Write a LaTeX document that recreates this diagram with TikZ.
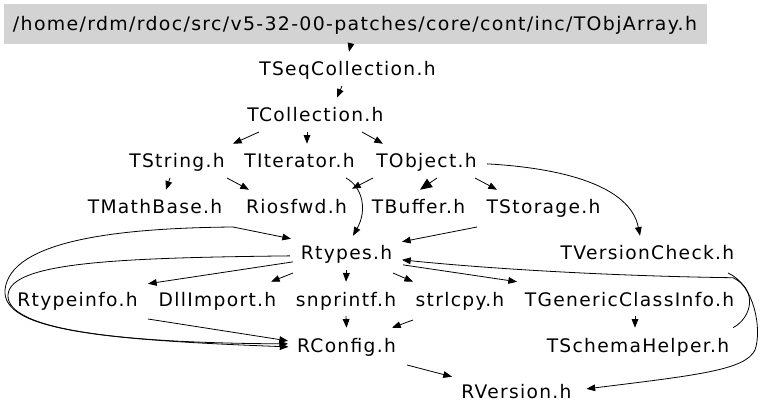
\documentclass[tikz,border=0pt]{standalone}
\usepackage{fontspec}
\setmainfont{DejaVu Sans}[LetterSpace=7]
\usepackage{graphicx}
\usetikzlibrary{arrows.meta,calc}
\definecolor{boxgray}{RGB}{211,211,211}
\begin{document}
\begin{tikzpicture}[x=0.75pt,y=-0.75pt,
  lbl/.style={font=\fontsize{14pt}{16pt}\selectfont, text height=14pt, text depth=3.3pt,
              inner xsep=3pt, inner ysep=4pt, anchor=base},
  rootbox/.style={font=\fontsize{14pt}{16pt}\selectfont, text height=14pt, text depth=3.3pt,
              fill=boxgray, draw=boxgray, inner sep=0pt, minimum width=526.5pt, minimum height=29.25pt},
  arr/.style={-{Triangle[length=6.5pt,width=5pt]}, line width=0.6pt},
  bigarr/.style={-{Triangle[length=9pt,width=7.5pt]}, line width=0.6pt}]
\useasboundingbox[fill=white] (0,0) rectangle (768,417);

% nodes
\node[rootbox] (objarr) at (355,23.5) {\resizebox{513pt}{\height}{/home/rdm/rdoc/src/v5-32-00-patches/core/cont/inc/TObjArray.h}};
\node[lbl] (seq) at (347.5,76) {TSeqCollection.h};
\node[lbl] (coll) at (315.5,122) {TCollection.h};
\node[lbl] (tstring) at (177,168) {TString.h};
\node[lbl] (titer) at (299.5,168) {TIterator.h};
\node[lbl] (tobject) at (426.5,168) {TObject.h};
\node[lbl] (tmath) at (155,214) {TMathBase.h};
\node[lbl] (riosfwd) at (296.5,214) {Riosfwd.h};
\node[lbl] (tbuffer) at (418.5,214) {TBuffer.h};
\node[lbl] (tstorage) at (543.5,214) {TStorage.h};
\node[lbl] (rtypes) at (346.5,260) {Rtypes.h};
\node[lbl] (tversion) at (647.5,260) {TVersionCheck.h};
\node[lbl] (rtypeinfo) at (77.5,306) {Rtypeinfo.h};
\node[lbl] (dllimport) at (217.5,306) {DllImport.h};
\node[lbl] (snprintf) at (346,306) {snprintf.h};
\node[lbl] (strlcpy) at (460,306) {strlcpy.h};
\node[lbl] (tgeneric) at (629.5,306) {TGenericClassInfo.h};
\node[lbl] (rconfig) at (346.5,352) {RConfig.h};
\node[lbl] (tschema) at (638,352) {TSchemaHelper.h};
\node[lbl] (rversion) at (516.5,398) {RVersion.h};

% edges
\draw[arr] ($(objarr.south)+(-4,0)$) -- ($(seq.north)+(1.5,0)$);
\draw[arr] ($(seq.south)+(-5.5,0)$) -- ($(coll.north)+(21.5,0)$);
\draw[arr] ($(coll.south)+(-56.5,0)$) -- ($(tstring.north)+(56,0)$);
\draw[arr] ($(coll.south)+(-8.5,0)$) -- ($(titer.north)+(7.5,0)$);
\draw[arr] ($(coll.south)+(46.5,0)$) -- ($(tobject.north)+(-43.5,0)$);
\draw[arr] ($(tstring.south)+(-7,0)$) -- ($(tmath.north)+(11,0)$);
\draw[arr] ($(tstring.south)+(50,0)$) -- ($(riosfwd.north)+(-47.5,0)$);
\draw[arr] ($(titer.south)+(46.5,0)$) .. controls ($(titer.south)+(63,9)$) and ($(titer.south)+(68,32)$) .. ($(rtypes.north)+(6.5,0)$);
\draw[arr] ($(tobject.south)+(-53.5,0)$) -- ($(riosfwd.north)+(55.5,-1)$);
\draw[bigarr] ($(tobject.south)+(10.5,0)$) -- ($(tbuffer.north)+(1.5,0)$);
\draw[arr] ($(tobject.south)+(48.5,0)$) -- ($(tstorage.north)+(-46.5,0)$);
\draw[arr] ($(tobject.center)+(60.5,3)$) .. controls ($(tobject.center)+(133.5,7)$) and ($(tobject.center)+(203.5,24)$) .. ($(tversion.north)+(-7.5,0)$);
\draw[arr] ($(tmath.south)+(78,3)$) -- ($(rtypes.north)+(-55.5,3)$);
\draw[arr] ($(riosfwd.south)+(-63.5,3)$) .. controls ($(riosfwd.south)+(-176.5,4)$) and ($(riosfwd.south)+(-286.5,16)$) .. ($(riosfwd.south)+(-291.5,66)$)
   .. controls ($(rconfig.center)+(-344.5,-15)$) and ($(rconfig.center)+(-246.5,-5)$) .. ($(rconfig.center)+(-58,2)$);
\draw[arr] ($(rtypes.center)+(-56.5,3)$) .. controls ($(rtypes.center)+(-226.5,5)$) and ($(rtypes.center)+(-336.5,9)$) .. ($(rtypes.center)+(-338.5,42)$)
   .. controls ($(rconfig.center)+(-340.5,-15)$) and ($(rconfig.center)+(-226.5,-2)$) .. ($(rconfig.center)+(-58.5,-1)$);
\draw[arr] ($(rtypes.center)+(-53.5,9)$) -- ($(rtypeinfo.north)+(70.5,2)$);
\draw[arr] ($(rtypes.south)+(-53.5,3)$) -- ($(dllimport.north)+(53.5,0)$);
\draw[arr] (rtypes.south) -- (snprintf.north);
\draw[arr] ($(rtypes.south)+(46.5,3)$) -- ($(strlcpy.north)+(-47,0)$);
\draw[arr] ($(rtypes.center)+(56.5,12)$) -- ($(tgeneric.north)+(-112.5,0)$);
\draw[arr] ($(tstorage.south)+(-66.5,3)$) -- ($(rtypes.north)+(55.5,6)$);
\draw[arr] ($(tschema.north)+(95,0)$) .. controls ($(tschema.north)+(114,-10)$) and ($(tschema.north)+(120,-38)$) .. ($(tschema.north)+(95,-50)$)
   .. controls ($(rtypes.center)+(253.5,23)$) and ($(rtypes.center)+(133.5,15)$) .. ($(rtypes.center)+(55.5,7)$);
\draw[arr] ($(tversion.south)+(80.5,3)$) .. controls ($(tversion.south)+(107.5,15)$) and ($(tversion.south)+(114.5,60)$) .. ($(tversion.south)+(107.5,80)$)
   .. controls ($(rversion.center)+(228.5,-21)$) and ($(rversion.center)+(183.5,-16)$) .. ($(rversion.center)+(70,-2)$);
\draw[arr] ($(tgeneric.south)+(5.5,0)$) -- ($(tschema.north)+(-3,0)$);
\draw[arr] ($(rtypeinfo.south)+(70.5,3)$) -- ($(rconfig.center)+(-58.5,-4)$);
\draw[arr] (snprintf.south) -- (rconfig.north);
\draw[arr] ($(strlcpy.south)+(-47,4)$) -- ($(rconfig.north)+(45.5,0)$);
\draw[arr] ($(rconfig.south)+(60.5,3)$) -- ($(rversion.north)+(-64.5,3)$);
\end{tikzpicture}
\end{document}
